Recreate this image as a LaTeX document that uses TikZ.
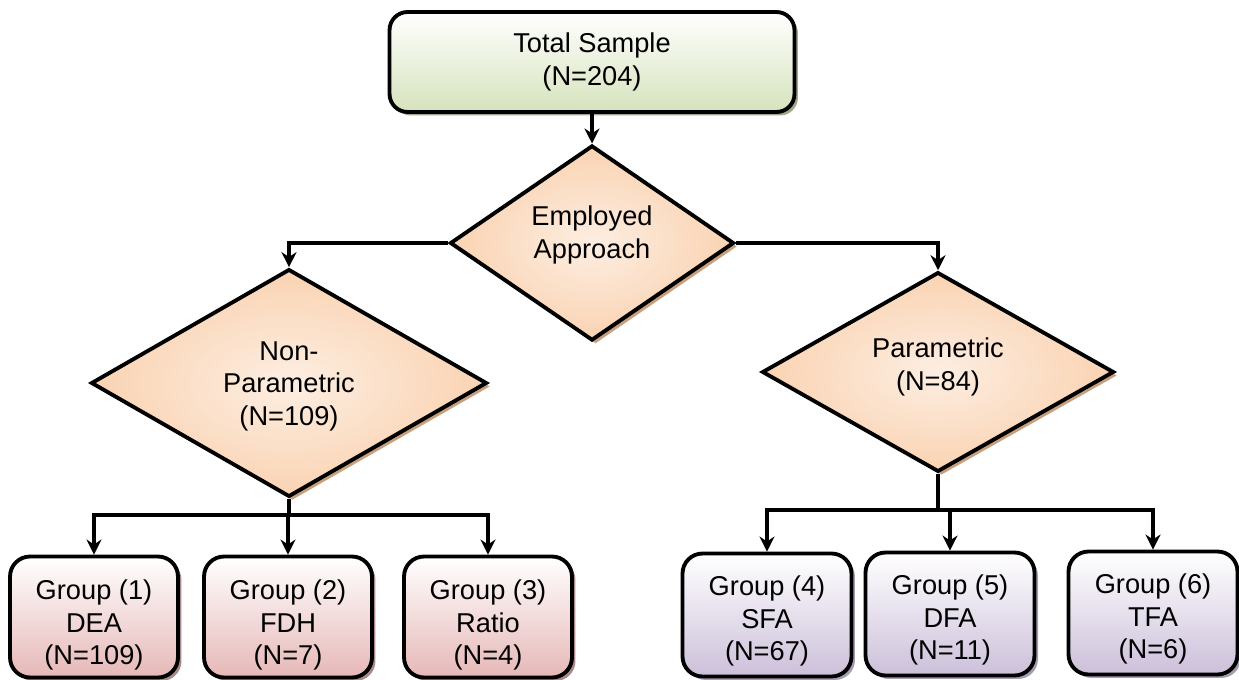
\documentclass[tikz,border=0pt]{standalone}
\usepackage{fontspec}
\setmainfont{Liberation Sans}
\usetikzlibrary{shapes.geometric,shadows,arrows.meta}

\definecolor{greenbot}{HTML}{D6E3BC}
\definecolor{greenshadow}{HTML}{9EA68C}
\definecolor{peach}{HTML}{FAD3B2}
\definecolor{peachin}{HTML}{FDEEE2}
\definecolor{peachshadow}{HTML}{C9A07E}
\definecolor{pinkbot}{HTML}{E6B8B7}
\definecolor{pinkshadow}{HTML}{A88A8A}
\definecolor{lavbot}{HTML}{CCC0DA}
\definecolor{lavshadow}{HTML}{A59CB2}

%% struts that push the text of a node down (top) or up (bottom)
\newcommand{\padtop}[1]{\rule{0pt}{#1}}
\newcommand{\padbot}[1]{\rule[-#1]{0pt}{0pt}}

\tikzset{
    txt/.style={align=center, font=\fontsize{15.5}{18.5}\selectfont, line width=2.2pt, draw=black},
    topbox/.style={txt, rectangle, rounded corners=0.36cm, minimum width=8.1cm, minimum height=2cm,
        top color=white, bottom color=greenbot,
        drop shadow={shadow xshift=0.07cm, shadow yshift=-0.07cm, fill=greenshadow, opacity=1}},
    decision/.style={txt, diamond, inner sep=0pt, shading=radial, inner color=peachin, outer color=peach,
        drop shadow={shadow xshift=0.07cm, shadow yshift=-0.07cm, fill=peachshadow, opacity=1}},
    nonbox/.style={txt, rectangle, rounded corners=0.4cm, minimum width=3.36cm, minimum height=2.42cm,
        top color=white, bottom color=pinkbot,
        drop shadow={shadow xshift=0.07cm, shadow yshift=-0.07cm, fill=pinkshadow, opacity=1}},
    parbox/.style={txt, rectangle, rounded corners=0.4cm, minimum width=3.38cm, minimum height=2.46cm,
        top color=white, bottom color=lavbot,
        drop shadow={shadow xshift=0.07cm, shadow yshift=-0.07cm, fill=lavshadow, opacity=1}},
    link/.style={line width=2.2pt},
    arr/.style={link, -{Stealth[length=0.3cm, width=0.3cm]}}
}

\begin{document}
\begin{tikzpicture}[x=0.02cm, y=-0.02cm]
        \useasboundingbox (0,0) rectangle (1239,679);
        %% top and decisions
        \node[topbox] (total) at (592,62) {Total Sample\\(N=204)};
        \node[decision, minimum width=5.68cm, minimum height=3.8cm] (approach) at (592,243) {Employed\\Approach\padbot{12.4pt}};
        \node[decision, minimum width=7.92cm, minimum height=4.18cm] (nonpar) at (289,383) {\padtop{14.5pt}Non-\\Parametric\\(N=109)};
        \node[decision, minimum width=7.04cm, minimum height=3.72cm] (par) at (938,372) {Parametric\\(N=84)\padbot{9pt}};
        %% groups
        \foreach \i/\x/\m/\n in {1/94/DEA/109, 2/288/FDH/7, 3/488/Ratio/4}{
            \node[nonbox] (g\i) at (\x,617) {\padtop{20.4pt}Group (\i)\\\m\\(N=\n)};
        }
        \foreach \i/\x/\m/\n/\y in {4/767/SFA/67/615, 5/950/DFA/11/614, 6/1153/TFA/6/613}{
            \node[parbox] (g\i) at (\x,\y) {\padtop{18.1pt}Group (\i)\\\m\\(N=\n)};
        }
        %% connectors
        \draw[arr] (total) -- (approach);
        \draw[arr] (approach.west) -| (nonpar.north);
        \draw[arr] (approach.east) -| (par.north);
        \coordinate (jl) at (nonpar.south |- 0,515);
        \coordinate (jr) at (par.south |- 0,510);
        \draw[link] (nonpar.south) -- (jl);
        \draw[link] (par.south) -- (jr);
        \foreach \i in {1,2,3}{
            \draw[arr] (jl) -| (g\i.north);
        }
        \foreach \i in {4,5,6}{
            \draw[arr] (jr) -| (g\i.north);
        }
    \end{tikzpicture}
\end{document}
